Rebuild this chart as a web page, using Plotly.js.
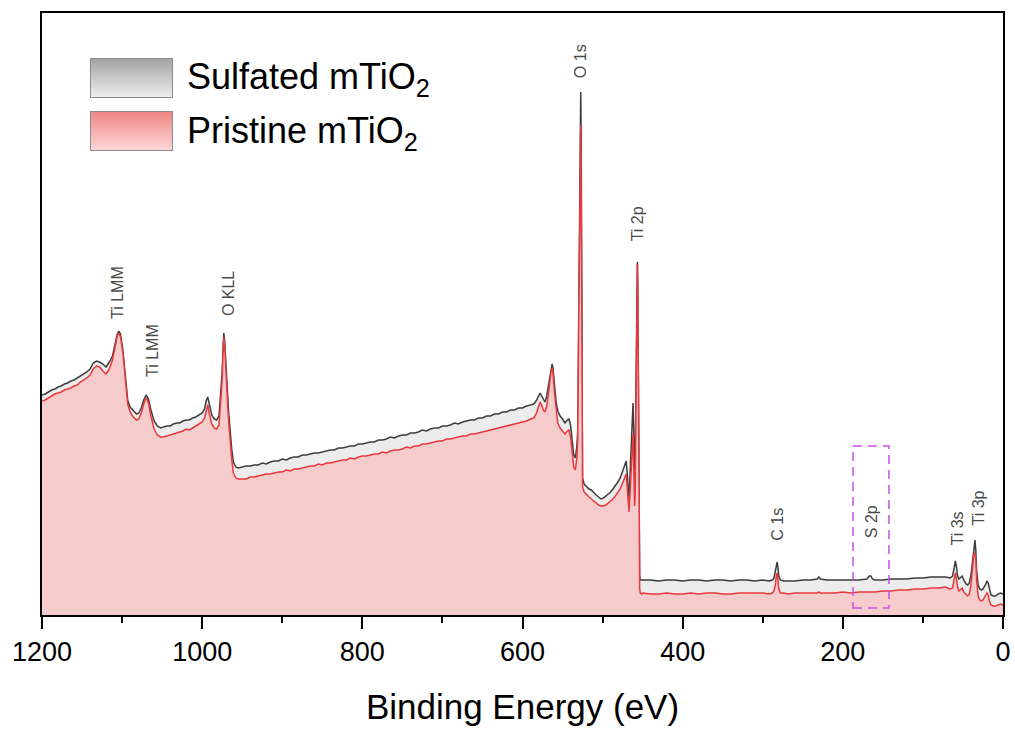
<!DOCTYPE html>
<html>
<head>
<meta charset="utf-8">
<script src="https://cdn.plot.ly/plotly-3.0.1.min.js"></script>
<style>html,body{margin:0;padding:0;background:#fff;}#chart{width:1015px;height:729px;}</style>
</head>
<body>
<div id="chart"></div>
<script>
// Binding energy (eV)
const energy = [
1200,1196,1192,1188,1184,1180,1176,1172,1168,1164,1160,1156,1152,1148,1144,1140,1136,1132,1128,1124,1120,1116,1112,1109,1106,1104,1102,1099,1096,1093,1090,1086,1082,1079,1076,1073,1070,1067,1064,1060,1056,1052,1048,1044,1040,1036,1032,1028,1024,1020,1016,1012,1008,1004,1000,997,995,993,991,988,985,982,979,977,975,974,973,972,971,969,967,965,963,961,958,955,
950,945,940,935,930,925,920,915,910,905,900,895,890,885,880,875,870,865,860,855,850,845,840,835,830,825,820,815,810,805,800,795,790,785,780,775,770,765,760,755,750,745,740,735,730,725,720,715,710,705,700,695,690,685,680,675,670,665,660,655,650,645,640,635,630,625,620,615,610,605,600,595,590,586,
583,580,578,576,574,572,570,568,566,564,563,562,560,558,556,553,550,547,544,542,540,538,536,534,532,531,530.3,529.5,528.5,527.8,527.3,526.8,526.2,525.5,525,
523,520,517,514,511,508,505,502,499,496,493,490,487,484,481,478,476,474,472,470.5,469,468,467,466,465,464,463,462,461,460,459.3,458.5,457.7,457,456.5,456,455.3,454.5,453.7,453,451,
450,440,430,420,410,400,390,380,370,360,350,340,330,320,310,300,292,288,286,284,283,282,281,280,278,274,268,260,250,240,232,230,228,220,210,200,190,180,170,167,165,163,160,150,140,130,120,110,100,90,80,72,66,63,61,59.5,58,57,55,53,51,49,46,44,42,40,38,36.5,35,34,33,31,29,27,25,22,20,18.5,17,15,12,9,6,3,0];

// Intensity (a.u.), Sulfated mTiO2
const sulfated = [
220,221,223,225,226,228,229,231,232,234,235,237,239,241,243,246,252,254,253,251,248,253,259,270,281,284,281,265,238,215,208,204,201,202,207,215,220,216,205,194,189,187,188,189,189,191,192,192,194,195,195,197,198,200,202,206,214,218,211,200,196,195,199,219,243,265,282,275,255,232,203,182,165,153,148,147,
148,149,149,150,150,152,151,153,154,154,156,155,157,158,158,160,160,161,162,162,163,164,165,165,167,167,168,169,169,171,171,172,173,173,175,175,176,178,177,179,180,180,182,182,183,185,184,186,187,187,189,189,190,192,191,193,194,195,195,197,197,199,199,201,201,203,203,205,205,207,207,209,210,211,
214,219,222,219,215,213,218,227,240,249,251,247,230,213,204,199,196,192,195,196,190,175,160,157,170,185,305,325,415,495,523,485,315,165,137,
131,128,126,125,122,120,118,116,117,119,121,123,126,129,133,137,142,147,152,154,140,120,115,135,153,160,190,212,180,145,147,215,295,351,353,325,195,75,40,35,35,
35,35,34,35,35,34,35,35,34,35,35,34,35,35,34,35,34,35,37,45,52,53,47,39,35,34,34,34,35,35,36,38,36,35,35,35,35,35,36,39,39,36,35,35,36,36,36,37,37,38,38,38,37,39,47,54,48,40,36,38,39,35,31,30,32,40,55,70,75,65,45,30,26,25,26,30,34,32,25,20,19,19,21,22,21];

// Intensity (a.u.), Pristine mTiO2
const pristine = [
214,215,217,219,221,222,223,225,226,227,229,230,233,235,237,240,246,249,248,244,241,246,255,267,279,282,278,262,234,211,203,198,195,196,202,211,217,212,199,186,180,178,178,179,180,181,182,183,184,186,185,187,189,191,193,197,205,210,201,191,187,186,190,211,235,260,278,271,249,223,194,172,155,142,137,136,
136,136,138,138,139,140,141,141,142,143,143,145,144,146,146,147,148,149,149,151,150,152,152,153,154,155,155,157,156,158,159,159,160,161,161,163,162,164,165,165,166,168,167,169,169,171,171,172,173,174,174,176,176,177,178,179,179,181,181,182,183,184,185,186,187,188,189,190,191,192,193,194,196,197,
201,208,213,210,205,203,208,219,234,245,247,242,222,203,192,187,184,181,184,185,178,163,148,145,158,175,295,315,385,465,490,455,295,153,128,
123,120,118,116,114,112,110,109,109,110,112,114,116,119,122,126,130,135,138,141,125,107,103,117,130,145,160,181,145,109,120,195,285,349,351,320,185,65,27,22,21,
22,21,21,22,21,21,22,21,22,22,21,21,22,22,22,22,21,22,24,31,40,42,35,27,22,22,21,22,22,22,22,23,22,22,22,23,22,23,23,23,23,23,23,24,24,25,25,26,26,27,27,28,26,27,35,42,36,29,24,26,27,23,20,19,21,30,47,60,62,55,35,19,15,14,15,19,22,20,14,10,9,9,10,11,10];

// Peak labels
const peakLabels = ['Ti LMM','Ti LMM','O KLL','O 1s','Ti 2p','C 1s','S 2p','Ti 3s','Ti 3p'];
const peakLabelE = [1105.7,1062,967,528,456,282,164,58,30];
const peakLabelY = [294,236,297,535,372,72,75,67,88];

const seriesNames = ['Sulfated mTiO<sub>2</sub>','Pristine mTiO<sub>2</sub>'];

const FONT = 'Liberation Sans, Arial, Helvetica, sans-serif';

const traces = [
  {x: energy, y: sulfated, type: 'scatter', mode: 'lines', name: seriesNames[0],
   line: {color: '#3d3d3d', width: 1.5}, fill: 'tozeroy', fillcolor: '#ececec', showlegend: false},
  {x: energy, y: pristine, type: 'scatter', mode: 'lines', name: seriesNames[1],
   line: {color: '#e8393d', width: 1.5}, fill: 'tozeroy', fillcolor: 'rgb(245,203,203)', showlegend: false}
];

function swatch(top, bottom, stroke) {
  const svg = "<svg xmlns='http://www.w3.org/2000/svg' width='83' height='40'><defs><linearGradient id='g' x1='0' y1='0' x2='0' y2='1'><stop offset='0' stop-color='" + top + "'/><stop offset='1' stop-color='" + bottom + "'/></linearGradient></defs><rect x='0.5' y='0.5' width='82' height='39' fill='url(#g)' stroke='" + stroke + "' stroke-width='1'/></svg>";
  return 'data:image/svg+xml;charset=utf-8,' + encodeURIComponent(svg);
}

const annotations = peakLabels.map((t, i) => ({
  x: peakLabelE[i], y: peakLabelY[i], xref: 'x', yref: 'y', text: t, showarrow: false,
  textangle: -90, xanchor: 'center', yanchor: 'bottom',
  font: {family: FONT, size: 16, color: '#4a4a4a'}
}));
annotations.push(
  {x: 0.1488, y: 0.8904, xref: 'paper', yref: 'paper', text: seriesNames[0], showarrow: false,
   xanchor: 'left', yanchor: 'middle', font: {family: FONT, size: 36, color: '#000'}},
  {x: 0.1488, y: 0.8007, xref: 'paper', yref: 'paper', text: seriesNames[1], showarrow: false,
   xanchor: 'left', yanchor: 'middle', font: {family: FONT, size: 36, color: '#000'}}
);

const layout = {
  width: 1015, height: 729,
  margin: {l: 42, r: 12, t: 13, b: 114, pad: 0},
  paper_bgcolor: '#ffffff', plot_bgcolor: '#ffffff',
  showlegend: false,
  font: {family: FONT, color: '#000'},
  xaxis: {
    range: [1200, 0], tick0: 0, dtick: 200, ticks: 'outside', ticklen: 12, tickwidth: 2, tickcolor: '#000',
    minor: {dtick: 100, ticks: 'outside', ticklen: 6, tickwidth: 2, tickcolor: '#000'},
    showline: true, linewidth: 2, linecolor: '#000', mirror: true,
    showgrid: false, zeroline: false,
    tickfont: {family: FONT, size: 27, color: '#000'},
    title: {text: 'Binding Energy (eV)', font: {family: FONT, size: 35, color: '#000'}, standoff: 28}
  },
  yaxis: {
    range: [0, 602], showline: true, linewidth: 2, linecolor: '#000', mirror: true,
    ticks: '', showticklabels: false, showgrid: false, zeroline: false
  },
  shapes: [
    {type: 'rect', xref: 'x', yref: 'y', x0: 187.3, x1: 142.4, y0: 7, y1: 169,
     line: {color: 'rgb(200,80,230)', width: 1.5, dash: '9px,6px'}, fillcolor: 'rgba(0,0,0,0)', layer: 'above'}
  ],
  images: [
    {source: swatch('#a3a3a3', '#eeeeee', '#8c8c8c'), xref: 'paper', yref: 'paper', x: 0.04995, y: 0.92525,
     sizex: 0.08637, sizey: 0.06645, sizing: 'stretch', xanchor: 'left', yanchor: 'top', layer: 'above'},
    {source: swatch('#f08585', '#fcd8d8', '#8c8c8c'), xref: 'paper', yref: 'paper', x: 0.04995, y: 0.8372,
     sizex: 0.08637, sizey: 0.06645, sizing: 'stretch', xanchor: 'left', yanchor: 'top', layer: 'above'}
  ],
  annotations: annotations
};

Plotly.newPlot('chart', traces, layout, {staticPlot: true, displayModeBar: false});
</script>
</body>
</html>
